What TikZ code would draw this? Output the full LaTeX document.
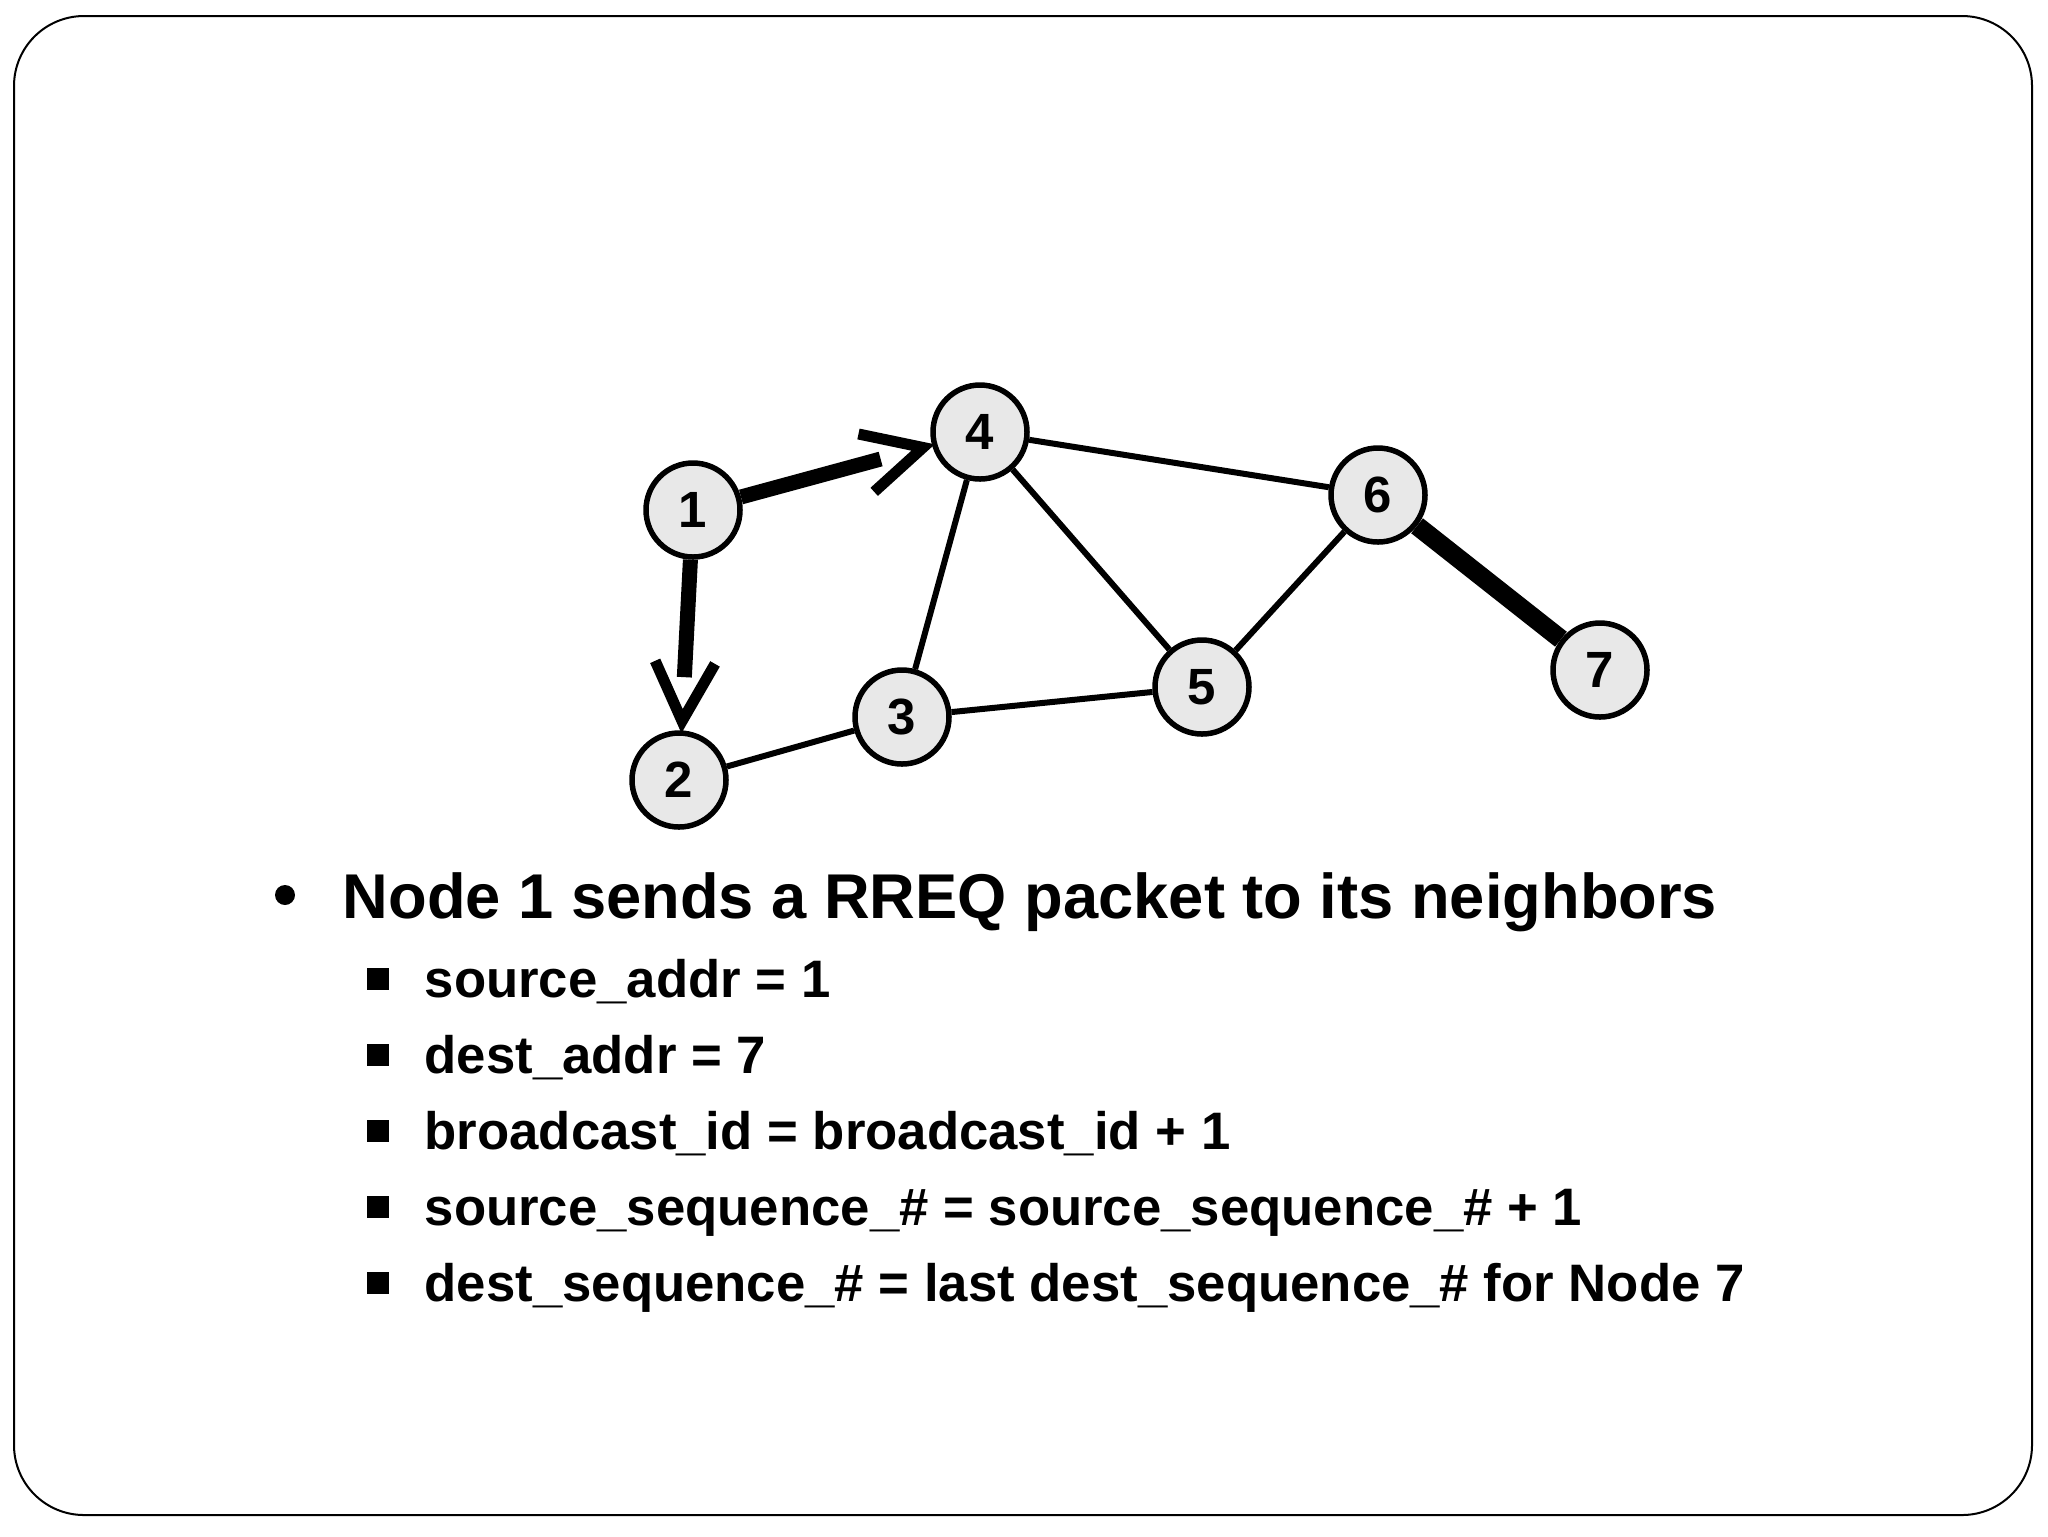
\documentclass[tikz,border=0pt]{standalone}
\usepackage{fontspec}
\setmainfont{Liberation Sans}
\usetikzlibrary{calc}

\begin{document}
\begin{tikzpicture}[x=0.1mm, y=-0.1mm,
      netnode/.style={circle, draw, line width=0.55mm, fill=black!9, minimum size=9.4mm, inner sep=0pt, font=\fontsize{14.5}{16}\selectfont\bfseries},
      link/.style={line width=0.6mm},
      route/.style={line width=1.9mm},
      shaft/.style={line width=1.5mm},
      barb/.style={line width=1.1mm, line join=miter},
      headline/.style={anchor=base west, inner sep=0pt, font=\fontsize{18}{21}\selectfont\bfseries},
      subline/.style={anchor=base west, inner sep=0pt, font=\fontsize{15}{18}\selectfont\bfseries},
      subbox/.style={fill=black, minimum size=2.2mm, inner sep=0pt}
    ]
      \useasboundingbox (0,0) rectangle (2048,1536);
      % slide frame
      \draw[line width=0.2mm, rounded corners=7mm] (14,16) rectangle (2032,1515);

      % network nodes
      \node[netnode] (n1) at (693,510) {1};
      \node[netnode] (n2) at (679,780) {2};
      \node[netnode] (n3) at (902,717) {3};
      \node[netnode] (n4) at (980,432) {4};
      \node[netnode] (n5) at (1202,687) {5};
      \node[netnode] (n6) at (1378,495) {6};
      \node[netnode] (n7) at (1600,670) {7};

      % plain links
      \draw[link] (n4) -- (n6);
      \draw[link] (n4) -- (n5);
      \draw[link] (n4) -- (n3);
      \draw[link] (n3) -- (n5);
      \draw[link] (n2) -- (n3);
      \draw[link] (n5) -- (n6);
      \draw[route] (n6) -- (n7);

      % RREQ: 1 -> 4
      \coordinate (tip4) at ($(n4)!5.9mm!(n1)$);
      \draw[shaft] (n1) -- ($(tip4)!4.4mm!(n1)$);
      \draw[barb] ($(tip4)!6.6mm!27:(n1)$) -- (tip4) -- ($(tip4)!6.6mm!-27:(n1)$);

      % RREQ: 1 -> 2
      \coordinate (tip2) at ($(n2)!5.9mm!(n1)$);
      \draw[shaft] (n1) -- ($(tip2)!4.4mm!(n1)$);
      \draw[barb] ($(tip2)!6.6mm!27:(n1)$) -- (tip2) -- ($(tip2)!6.6mm!-27:(n1)$);

      % bullet text
      \fill (285,895) circle (10);
      \node[headline] (head) at (342,918) {Node 1 sends a RREQ packet to its neighbors};

      \node[subbox] (b1) at (378,979) {};
      \node[subline] (s1) at (424,997) {source\_addr = 1};
      \node[subbox] (b2) at (378,1055) {};
      \node[subline] (s2) at (424,1073) {dest\_addr = 7};
      \node[subbox] (b3) at (378,1131) {};
      \node[subline] (s3) at (424,1149) {broadcast\_id = broadcast\_id + 1};
      \node[subbox] (b4) at (378,1207) {};
      \node[subline] (s4) at (424,1225) {source\_sequence\_\# = source\_sequence\_\# + 1};
      \node[subbox] (b5) at (378,1283) {};
      \node[subline] (s5) at (424,1301) {dest\_sequence\_\# = last dest\_sequence\_\# for Node 7};
    \end{tikzpicture}
\end{document}
